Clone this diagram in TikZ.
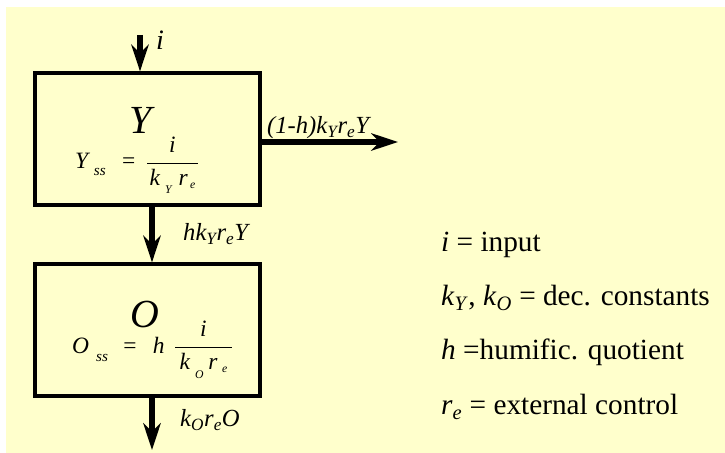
\documentclass[tikz,border=0pt]{standalone}
\usepackage{fontspec}
\setmainfont{Liberation Serif}
\usetikzlibrary{arrows.meta}
\definecolor{paleyellow}{HTML}{FFFFCC}
\newcommand{\lowsub}[3][10]{\raisebox{-#3}{\fontsize{#1}{#1}\selectfont\textit{#2}}}
\tikzset{
  pool/.style={draw, line width=3pt, minimum width=6.75cm, minimum height=3.95cm, inner sep=0pt},
  flow/.style={->, line width=4.5pt},
  formula/.style={anchor=base west, inner sep=0pt, font=\fontsize{20}{24}\selectfont},
  flowlabel/.style={anchor=west, inner sep=0pt, font=\fontsize{21}{24}\selectfont\itshape},
  legend/.style={anchor=west, inner sep=0pt, font=\fontsize{25}{30}\selectfont}
}
\begin{document}
\begin{tikzpicture}[x=0.03cm, y=-0.03cm, >={Stealth[length=0.8cm, width=0.52cm, inset=0.25cm]}]
            \useasboundingbox (0,0) rectangle (725,453);
            \fill[paleyellow] (6,7) rectangle (725,453);

            \node[pool] (Ybox) at (147.5,139) {};
            \node[pool] (Obox) at (147.5,330) {};

            \node[font=\fontsize{34}{38}\selectfont\itshape] (Ytitle) at (141,120) {Y};
            \node[formula] (Yss) at (75,169)
              {\textit{Y}\hspace{3pt}\lowsub[13]{ss}{0.6ex}\hspace{14pt}=\hspace{9pt}$\displaystyle\frac{\textit{i}}{\makebox[43pt]{\textit{k}\hspace{4pt}\lowsub{Y}{0.7ex}\hspace{5pt}\textit{r}\hspace{2pt}\lowsub{e}{0.3ex}}}$};
            \node[font=\fontsize{34}{38}\selectfont\itshape] (Otitle) at (145,315) {O};
            \node[formula] (Oss) at (72,353)
              {\textit{O}\hspace{6pt}\lowsub[13]{ss}{0.8ex}\hspace{13pt}=\hspace{14pt}\textit{h}\hspace{8pt}$\displaystyle\frac{\textit{i}}{\makebox[48pt]{\textit{k}\hspace{4pt}\lowsub{O}{0.8ex}\hspace{4pt}\textit{r}\hspace{4pt}\lowsub{e}{0.3ex}}}$};

            \coordinate (in) at (140,35);
            \coordinate (mid) at (152,0);
            \coordinate (out) at (398,142);
            \coordinate (loss) at (152,450);

            \draw[flow] (in) -- (in |- Ybox.north);
            \draw[flow] (Ybox.east |- out) -- (out);
            \draw[flow] (mid |- Ybox.south) -- (mid |- Obox.north);
            \draw[flow] (mid |- Obox.south) -- (loss);

            \node[flowlabel, font=\fontsize{24}{28}\selectfont\itshape] (ilabel) at (156,40) {i};
            \node[flowlabel] (outlabel) at (267,128) {(1-h)k\textsubscript{Y}r\textsubscript{e}Y};
            \node[flowlabel] (humlabel) at (183,234) {hk\textsubscript{Y}r\textsubscript{e}Y};
            \node[flowlabel] (losslabel) at (180,420) {k\textsubscript{O}r\textsubscript{e}O};

            \node[legend] (lin) at (441,245) {\textit{i} = input};
            \node[legend] (lk) at (441,298) {\textit{k}\textsubscript{\textit{Y}}, \textit{k}\textsubscript{\textit{O}} = dec. constants};
            \node[legend] (lh) at (441,352) {\textit{h} =humific. quotient};
            \node[legend] (lr) at (441,407) {\textit{r}\textsubscript{\textit{e}} = external control};
        \end{tikzpicture}
\end{document}
